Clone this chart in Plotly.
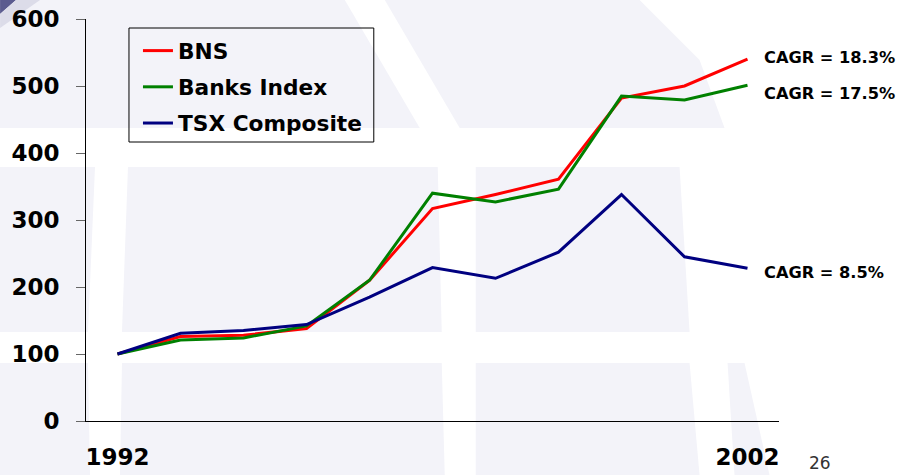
import plotly.graph_objects as go

years = [1992, 1993, 1994, 1995, 1996, 1997, 1998, 1999, 2000, 2001, 2002]
bns = [100, 126, 128, 138, 210, 317, 338, 361, 482, 500, 540]
banks = [100, 121, 124, 142, 210, 340, 327, 346, 485, 479, 501]
tsx = [100, 131, 135, 144, 185, 229, 213, 252, 338, 245, 228]
series_names = ["BNS", "Banks Index", "TSX Composite"]
series_colors = ["#ff0000", "#008000", "#000080"]
cagr_labels = ["CAGR = 18.3%", "CAGR = 17.5%", "CAGR = 8.5%"]
y_ticks = [0, 100, 200, 300, 400, 500, 600]
x_tick_labels = ["1992", "2002"]
page_number = "26"

W, H = 903, 475
L, R, T, B = 86, 123.5, 19, 54
PW, PH = W - L - R, H - T - B


def px(x):
    return (x - L) / PW


def py(y):
    return (H - B - y) / PH


fig = go.Figure()
idx = list(range(len(years)))
for name, vals, col in zip(series_names, [bns, banks, tsx], series_colors):
    fig.add_trace(go.Scatter(x=idx, y=vals, mode="lines", name="<b>%s</b>" % name,
                             legendgroup=name,
                             line=dict(color=col, width=3)))

# CAGR annotations at the last data point
for lab, vals, dy in zip(cagr_labels, [bns, banks, tsx], [2, -8, -4]):
    fig.add_annotation(x=idx[-1], y=vals[-1], text="<b>%s</b>" % lab,
                       showarrow=False, xanchor="left", xshift=14, yshift=dy,
                       font=dict(family="DejaVu Sans", size=16.2, color="black"))

# ---- background watermark approximation (globe) ----
lav = "#f3f3f9"
shapes = []


def poly(pts, color):
    d = "M " + " L ".join("%f %f" % (px(a), py(b)) for a, b in pts) + " Z"
    shapes.append(dict(type="path", xref="paper", yref="paper", path=d,
                       fillcolor=color, line_width=0, layer="below"))


# upper region (y 0-128)
poly([(0, 0), (345, 0), (420, 128), (0, 128)], lav)
poly([(385, 0), (640, 0), (700, 60), (725, 128), (460, 128)], lav)
# middle band (y 167-332)
poly([(0, 167), (95, 167), (88, 332), (0, 332)], lav)
poly([(128, 167), (438, 167), (442, 332), (122, 332)], lav)
poly([(476, 167), (680, 167), (690, 332), (476, 332)], lav)
# lower band (y 363-475)
poly([(0, 363), (88, 363), (90, 475), (0, 475)], lav)
poly([(122, 363), (442, 363), (445, 475), (120, 475)], lav)
poly([(476, 363), (690, 363), (700, 475), (476, 475)], lav)
poly([(728, 363), (745, 363), (770, 475), (735, 475)], lav)
# dark corner
poly([(0, 0), (16, 0), (0, 14)], "#5b5b8f")
poly([(16, 0), (40, 0), (0, 28), (0, 14)], "#dcdce9")

# legend frame
shapes.append(dict(type="rect", xref="paper", yref="paper",
                   x0=px(129), x1=px(374), y0=py(28), y1=py(142),
                   line=dict(color="black", width=1), fillcolor="rgba(0,0,0,0)",
                   layer="above"))

fig.add_annotation(xref="paper", yref="paper", x=px(821), y=py(463), text=page_number,
                   showarrow=False, xanchor="center", yanchor="middle",
                   font=dict(family="DejaVu Sans", size=17, color="#333333"))

fig.update_layout(
    width=W, height=H,
    margin=dict(l=L, r=R, t=T, b=B, pad=0, autoexpand=False),
    paper_bgcolor="white", plot_bgcolor="rgba(0,0,0,0)",
    shapes=shapes,
    showlegend=True,
    legend=dict(x=px(138), y=py(30), xanchor="left", yanchor="top",
                bgcolor="rgba(0,0,0,0)", borderwidth=0,
                font=dict(family="DejaVu Sans", size=21.7, color="black"),
                tracegroupgap=5, itemwidth=30),
    xaxis=dict(range=[-0.5, 10.5], tickvals=[0, 10], ticktext=["<b>%s</b>" % t for t in x_tick_labels],
               showgrid=False, zeroline=False, showline=True, linecolor="black", linewidth=1,
               ticks="", tickfont=dict(family="DejaVu Sans", size=23, color="black"),
               ticklabelstandoff=15, automargin=False),
    yaxis=dict(range=[0, 600], tickvals=y_ticks, ticktext=["<b>%d</b>" % v for v in y_ticks],
               showgrid=False, zeroline=False, showline=True, linecolor="black", linewidth=1,
               ticks="outside", ticklen=9, tickcolor="#666666",
               tickfont=dict(family="DejaVu Sans", size=23, color="black"),
               ticklabelstandoff=12, automargin=False),
)
fig.write_html("out.html")
